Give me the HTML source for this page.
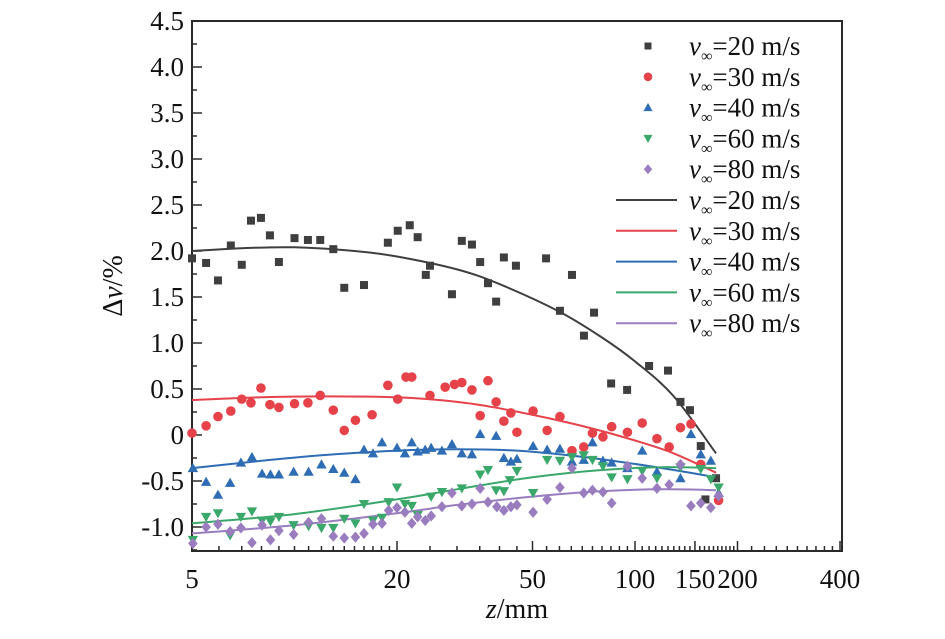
<!DOCTYPE html>
<html><head><meta charset="utf-8"><style>
html,body{margin:0;padding:0;background:#fff;}
svg, svg text{font-family:"Liberation Serif","DejaVu Serif",serif;}
</style></head><body>
<svg id="chart" width="945" height="634" viewBox="0 0 945 634" xmlns="http://www.w3.org/2000/svg" font-family="Liberation Serif, serif">
<g id="axes"></g>
<g id="plot"></g>
<g id="legend"></g>
</svg>
<script>
const xTickVals = [5, 20, 50, 100, 150, 200, 400];
const xTickLabels = ["5", "20", "50", "100", "150", "200", "400"];
const yTickVals = [4.5, 4.0, 3.5, 3.0, 2.5, 2.0, 1.5, 1.0, 0.5, 0, -0.5, -1.0];
const yTickLabels = ["4.5", "4.0", "3.5", "3.0", "2.5", "2.0", "1.5", "1.0", "0.5", "0", "-0.5", "-1.0"];
const seriesNames = ["20", "30", "40", "60", "80"];

const pts20 = [[5.0,1.92],[5.5,1.87],[5.96,1.68],[6.5,2.06],[7.0,1.85],[7.45,2.33],[7.97,2.36],[8.47,2.17],[9.0,1.88],[10,2.14],[10.95,2.12],[11.9,2.12],[13,2.02],[14,1.60],[16,1.63],[18.8,2.09],[20.1,2.22],[21.8,2.28],[23,2.15],[24.3,1.74],[25,1.84],[29,1.53],[31,2.11],[33.2,2.07],[35.1,1.88],[37,1.65],[39.1,1.45],[41.2,1.93],[44.7,1.84],[54.8,1.92],[60.2,1.35],[65.3,1.74],[70.8,1.08],[75.8,1.33],[85.1,0.56],[94.8,0.49],[110,0.75],[125,0.70],[136,0.36],[145,0.27],[156,-0.12],[161,-0.70],[173,-0.47]];
const pts30 = [[5.0,0.02],[5.5,0.10],[5.96,0.20],[6.5,0.26],[7.0,0.39],[7.45,0.35],[7.97,0.51],[8.47,0.33],[9.0,0.30],[10,0.34],[10.95,0.35],[11.9,0.43],[13,0.27],[14,0.05],[15.1,0.16],[16.9,0.22],[18.8,0.54],[20.1,0.39],[21.25,0.63],[22.1,0.63],[25,0.43],[27.7,0.52],[29.5,0.55],[31,0.57],[33.2,0.49],[37,0.59],[35.1,0.21],[39.1,0.36],[41.2,0.15],[43.2,0.24],[45,0.03],[50.2,0.26],[55.2,0.05],[60.2,0.20],[65.3,-0.17],[70.7,-0.13],[75,0.02],[80.5,-0.02],[85.4,0.09],[95,0.03],[105,0.13],[116,-0.04],[126,-0.13],[136,0.08],[146,0.12],[156,-0.32],[176,-0.71]];
const pts40 = [[5.03,-0.36],[5.5,-0.51],[5.96,-0.65],[6.47,-0.52],[6.96,-0.30],[7.5,-0.24],[8.03,-0.42],[8.5,-0.43],[9.0,-0.43],[9.94,-0.40],[11,-0.40],[12,-0.32],[13,-0.37],[14,-0.41],[15.1,-0.48],[16,-0.16],[17,-0.20],[18.07,-0.08],[20,-0.14],[21.1,-0.20],[22.1,-0.08],[23,-0.18],[24.2,-0.16],[25.2,-0.14],[27.1,-0.17],[29,-0.10],[31,-0.20],[33.2,-0.21],[35.1,0.01],[39.1,-0.01],[41.2,-0.25],[43.2,-0.29],[45,-0.26],[50.2,-0.12],[55.2,-0.16],[60.2,-0.15],[65.3,-0.29],[70.7,-0.27],[75,-0.08],[80.5,-0.28],[85.4,-0.30],[95,-0.36],[105,-0.17],[116,-0.40],[136,-0.47],[146,0.01],[156,-0.21],[167,-0.28],[176,-0.63]];
const pts60 = [[5.03,-1.14],[5.5,-0.89],[5.96,-0.85],[6.47,-1.09],[6.96,-0.89],[7.5,-0.83],[8.03,-0.93],[8.5,-0.94],[9.0,-0.89],[9.94,-0.98],[11,-0.99],[12,-1.01],[13,-1.01],[14,-0.91],[15.1,-0.96],[16,-0.75],[17,-0.93],[18.07,-0.90],[18.9,-0.73],[20,-0.57],[21.1,-0.75],[22.1,-0.77],[23,-0.87],[25.2,-0.67],[27.1,-0.62],[31,-0.58],[35.1,-0.43],[37,-0.38],[39.1,-0.60],[41.2,-0.61],[42.9,-0.49],[45,-0.39],[50.2,-0.63],[55.2,-0.27],[60.2,-0.28],[65.3,-0.24],[70.7,-0.22],[75,-0.27],[80.5,-0.34],[85.4,-0.46],[95,-0.48],[105,-0.39],[116,-0.47],[136,-0.35],[156,-0.37],[167,-0.48],[176,-0.57]];
const pts80 = [[5.03,-1.18],[5.5,-1.00],[5.96,-0.97],[6.47,-1.05],[6.96,-1.01],[7.5,-1.17],[8.03,-0.98],[8.5,-1.14],[9.0,-1.04],[9.94,-1.08],[11,-0.95],[12,-0.91],[13,-1.10],[14,-1.12],[15.1,-1.11],[16,-1.07],[17,-0.97],[18.07,-0.96],[18.9,-0.82],[20,-0.79],[21.1,-0.84],[22.1,-0.96],[23,-0.89],[24.2,-0.93],[25.2,-0.88],[27.1,-0.78],[29,-0.63],[31,-0.77],[33.2,-0.75],[35.1,-0.58],[37,-0.73],[39.3,-0.78],[41.2,-0.82],[43.2,-0.78],[45,-0.76],[50.2,-0.84],[55.2,-0.70],[60.2,-0.57],[65.3,-0.36],[70.7,-0.63],[75,-0.60],[80.5,-0.62],[85.4,-0.74],[95,-0.34],[105,-0.47],[116,-0.58],[126,-0.54],[136,-0.32],[146,-0.77],[156,-0.74],[167,-0.79],[176,-0.66]];

const fitX20 = [5,7,10,15,20,30,40,60,80,100,130,173];
const fitY20 = [2.0,2.03,2.04,2.0,1.94,1.80,1.64,1.34,1.06,0.80,0.42,-0.20];
const fitX30 = [5,8,12,20,30,40,56,75,100,130,173];
const fitY30 = [0.38,0.41,0.42,0.41,0.36,0.29,0.18,0.07,-0.06,-0.2,-0.41];
const fitX40 = [5,8,12,20,30,45,60,90,130,173];
const fitY40 = [-0.36,-0.28,-0.22,-0.17,-0.155,-0.17,-0.21,-0.29,-0.38,-0.46];
const fitX60 = [5,10,20,30,50,80,120,173];
const fitY60 = [-0.96,-0.86,-0.70,-0.59,-0.46,-0.38,-0.35,-0.36];
const fitX80 = [5,10,20,30,50,80,120,173];
const fitY80 = [-1.07,-0.98,-0.85,-0.76,-0.67,-0.61,-0.59,-0.60];

const NS = "http://www.w3.org/2000/svg";
const FONT = '"Liberation Serif", "DejaVu Serif", serif';
const L = 192, R = 842, T = 21, B = 551;
function xs(v){ return L + Math.log10(v/5) * 340.5; }
function ys(v){ return 435 - v * 92; }
function mk(tag, attrs, parent){ const e = document.createElementNS(NS, tag); for (const k in attrs) e.setAttribute(k, attrs[k]); parent.appendChild(e); return e; }

const axes = document.getElementById('axes');
const plot = document.getElementById('plot');
const legend = document.getElementById('legend');
const colors = ["#3f3f3f","#e5424a","#2e6db4","#3aa86b","#9a7dbf"];
const ink = "#2a2a2a";

const frame = mk('rect', {x:L, y:T, width:R-L, height:B-T, fill:'none', stroke:ink, 'stroke-width':2}, axes);



const minors = [];
for (let v=6; v<20; v++) minors.push(v);
for (let v=25; v<50; v+=5) minors.push(v);
for (let v=55; v<200; v+=5) minors.push(v);
for (let v=220; v<400; v+=20) minors.push(v);
minors.forEach(v => {
  if (xTickVals.includes(v)) return;
  const t = mk('line', {x1:xs(v), x2:xs(v), y1:B, y2:B-5, stroke:ink, 'stroke-width':1.5}, axes);
  
  
});
xTickVals.forEach((v,i) => {
  const t = mk('line', {x1:xs(v), x2:xs(v), y1:B, y2:B-10, stroke:ink, 'stroke-width':1.5}, axes);
  
  
  const tx = mk('text', {x:xs(v), y:588, 'font-size':27, 'font-family':FONT, 'text-anchor':'middle', fill:'#111'}, axes);
  tx.textContent = xTickLabels[i];
  
  
});
for (let v=-1.25; v<=4.5; v+=0.25) {
  const y = ys(v);
  const major = Math.abs(v*2 - Math.round(v*2)) < 1e-6;
  const t = mk('line', {x1:L, x2:L+(major?10:5), y1:y, y2:y, stroke:ink, 'stroke-width':1.5}, axes);
  
  
}
yTickVals.forEach((v,i) => {
  const tx = mk('text', {x:184, y:ys(v)+9, 'font-size':27, 'font-family':FONT, 'text-anchor':'end', fill:'#111'}, axes);
  tx.textContent = yTickLabels[i];
  
  
});
const xt = mk('text', {x:517, y:618, 'font-size':28, 'font-family':FONT, 'text-anchor':'middle', fill:'#111'}, axes);
xt.innerHTML = '<tspan font-style="italic">z</tspan>/mm';


const yt = mk('text', {x:0, y:0, 'font-size':28, 'font-family':FONT, 'text-anchor':'middle', fill:'#111', transform:'translate(122,286) rotate(-90)'}, axes);
yt.innerHTML = 'Δ<tspan font-style="italic">v</tspan>/%';



function marker(k, cx, cy, parent, s){
  const c = colors[k];
  if (k===0) return mk('rect', {x:cx-s, y:cy-s, width:2*s, height:2*s, fill:c}, parent);
  if (k===1) return mk('circle', {cx:cx, cy:cy, r:s+0.8, fill:c}, parent);
  if (k===2) return mk('polygon', {points:`${cx},${cy-s*1.3} ${cx-s*1.3},${cy+s} ${cx+s*1.3},${cy+s}`, fill:c}, parent);
  if (k===3) return mk('polygon', {points:`${cx-s*1.3},${cy-s} ${cx+s*1.3},${cy-s} ${cx},${cy+s*1.3}`, fill:c}, parent);
  return mk('polygon', {points:`${cx},${cy-s*1.4} ${cx+s*1.2},${cy} ${cx},${cy+s*1.4} ${cx-s*1.2},${cy}`, fill:c}, parent);
}

function smoothPath(P){
  let d = 'M' + P[0][0].toFixed(1) + ',' + P[0][1].toFixed(1);
  for (let i=0; i<P.length-1; i++) {
    const p0 = P[Math.max(0,i-1)], p1 = P[i], p2 = P[i+1], p3 = P[Math.min(P.length-1,i+2)];
    const c1x = p1[0] + (p2[0]-p0[0])/6, c1y = p1[1] + (p2[1]-p0[1])/6;
    const c2x = p2[0] - (p3[0]-p1[0])/6, c2y = p2[1] - (p3[1]-p1[1])/6;
    d += ` C${c1x.toFixed(1)},${c1y.toFixed(1)} ${c2x.toFixed(1)},${c2y.toFixed(1)} ${p2[0].toFixed(1)},${p2[1].toFixed(1)}`;
  }
  return d;
}

const allPts = [pts20, pts30, pts40, pts60, pts80];
const fitXs = [fitX20, fitX30, fitX40, fitX60, fitX80];
const fitYs = [fitY20, fitY30, fitY40, fitY60, fitY80];

fitXs.forEach((fx,k) => {
  const P = fx.map((x,i) => [xs(x), ys(fitYs[k][i])]);
  const p = mk('path', {d:smoothPath(P), fill:'none', stroke:colors[k], 'stroke-width':2, 'stroke-linejoin':'round'}, plot);
  
  
});
allPts.forEach((pts,k) => {
  pts.forEach(p => {
    const m = marker(k, xs(p[0]), ys(p[1]), plot, 4);
    
    
  });
});

for (let i=0; i<10; i++) {
  const k = i % 5;
  const y = 46 + i * 30.8;
  if (i < 5) {
    const m = marker(k, 648, y, legend, 3.5);
    
    
  } else {
    const l = mk('line', {x1:616, x2:677, y1:y, y2:y, stroke:colors[k], 'stroke-width':2}, legend);
    
    
  }
  const t = mk('text', {x:689, y:y+9, 'font-size':27, 'font-family':FONT, fill:'#111'}, legend);
  t.innerHTML = '<tspan font-style="italic">v</tspan><tspan font-size="16" dy="6">∞</tspan><tspan dy="-6">=' + seriesNames[k] + ' m/s</tspan>';
  
  
}
</script>
</body></html>
